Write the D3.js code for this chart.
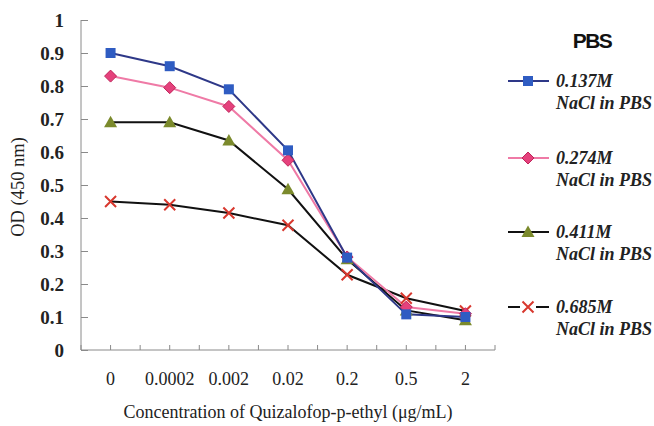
<!DOCTYPE html>
<html>
<head>
<meta charset="utf-8">
<script src="https://cdn.jsdelivr.net/npm/d3@7"></script>
<style>
  body { margin: 0; background: #fff; }
  svg { display: block; }
</style>
</head>
<body>
<div id="chart"></div>
<script>
// Chart data
const concentrations = ["0", "0.0002", "0.002", "0.02", "0.2", "0.5", "2"];
const yTicks = [0, 0.1, 0.2, 0.3, 0.4, 0.5, 0.6, 0.7, 0.8, 0.9, 1];
const seriesNames = ["0.137M", "0.274M", "0.411M", "0.685M"];
const nacl137 = [0.90, 0.86, 0.79, 0.605, 0.28, 0.108, 0.10];
const nacl274 = [0.83, 0.795, 0.738, 0.575, 0.282, 0.13, 0.11];
const nacl411 = [0.69, 0.69, 0.635, 0.487, 0.275, 0.12, 0.09];
const nacl685 = [0.45, 0.44, 0.415, 0.378, 0.228, 0.157, 0.118];

const width = 654, height = 426;
const plot = { left: 81, right: 495, top: 20, bottom: 350 };

const svg = d3.select("#chart").append("svg")
    .attr("width", width)
    .attr("height", height);

const x = d3.scaleBand()
    .domain(concentrations)
    .range([plot.left, plot.right]);

const y = d3.scaleLinear()
    .domain([0, 1])
    .range([plot.bottom, plot.top]);

const axisColor = "#8a8a8a";
const serif = "'Liberation Serif', 'Times New Roman', serif";

// Y axis
const yAxis = svg.append("g")
    .attr("transform", `translate(${plot.left},0)`)
    .call(d3.axisRight(y).tickValues(yTicks).tickSize(7).tickFormat(d3.format("~g")));
yAxis.select(".domain").attr("stroke", axisColor).attr("d", `M0,${plot.bottom}V${plot.top}`);
yAxis.selectAll(".tick line").attr("stroke", axisColor);
yAxis.selectAll(".tick text")
    .attr("x", -17)
    .attr("text-anchor", "end")
    .attr("dy", "0.35em")
    .style("font-family", serif)
    .style("font-size", "19px")
    .style("font-weight", "bold")
    .attr("fill", "#222");

// X axis: ticks at band edges and centres, pointing up
const xAxis = svg.append("g")
    .attr("transform", `translate(0,${plot.bottom})`);
xAxis.append("line")
    .attr("x1", plot.left).attr("x2", plot.right)
    .attr("stroke", axisColor);
const edgeTicks = concentrations.map(c => x(c)).concat([plot.right]);
const centreTicks = concentrations.map(c => x(c) + x.bandwidth() / 2);
xAxis.selectAll(".xt")
    .data(edgeTicks.concat(centreTicks))
    .join("line")
    .attr("x1", d => d).attr("x2", d => d)
    .attr("y1", 0).attr("y2", -5)
    .attr("stroke", axisColor);
xAxis.selectAll(".xl")
    .data(concentrations)
    .join("text")
    .attr("x", d => x(d) + x.bandwidth() / 2)
    .attr("y", 35)
    .attr("text-anchor", "middle")
    .style("font-family", serif)
    .style("font-size", "18px")
    .attr("fill", "#222")
    .text(d => d);

// Axis titles
svg.append("text")
    .attr("x", 288)
    .attr("y", 418)
    .attr("text-anchor", "middle")
    .style("font-family", serif)
    .style("font-size", "18px")
    .attr("fill", "#222")
    .text("Concentration of Quizalofop-p-ethyl (μg/mL)");

svg.append("text")
    .attr("transform", "translate(24,187) rotate(-90)")
    .attr("text-anchor", "middle")
    .style("font-family", serif)
    .style("font-size", "18.5px")
    .attr("fill", "#222")
    .text("OD (450 nm)");

// Series
const series = [
    { name: seriesNames[0], values: nacl137, line: "#2e3888", marker: "square", fill: "#2f5cc2" },
    { name: seriesNames[1], values: nacl274, line: "#ef7aa6", marker: "diamond", fill: "#e5417c" },
    { name: seriesNames[2], values: nacl411, line: "#111", marker: "triangle", fill: "#7b8a2c" },
    { name: seriesNames[3], values: nacl685, line: "#111", marker: "cross", fill: "#d8382e" }
];

const line = d3.line()
    .x((d, i) => x(concentrations[i]) + x.bandwidth() / 2)
    .y(d => y(d));

function drawMarker(g, type, fill) {
    if (type === "square") {
        g.append("rect").attr("x", -5).attr("y", -5).attr("width", 10).attr("height", 10)
            .attr("fill", fill);
    } else if (type === "diamond") {
        g.append("path").attr("d", "M0,-6L6,0L0,6L-6,0Z")
            .attr("fill", fill).attr("stroke", "#c0245a").attr("stroke-width", 1);
    } else if (type === "triangle") {
        g.append("path").attr("d", "M0,-6.5L6.5,5L-6.5,5Z").attr("fill", fill);
    } else {
        g.append("path").attr("d", "M-5.5,-5.5L5.5,5.5M-5.5,5.5L5.5,-5.5")
            .attr("stroke", fill).attr("stroke-width", 2).attr("fill", "none");
    }
}

// draw in reverse so blue sits on top
series.slice().reverse().forEach(s => {
    svg.append("path")
        .datum(s.values)
        .attr("d", line)
        .attr("fill", "none")
        .attr("stroke", s.line)
        .attr("stroke-width", 2);
});
series.slice().reverse().forEach(s => {
    s.values.forEach((v, i) => {
        const g = svg.append("g")
            .attr("transform", `translate(${x(concentrations[i]) + x.bandwidth() / 2},${y(v)})`);
        drawMarker(g, s.marker, s.fill);
    });
});

// Legend
svg.append("text")
    .attr("x", 592)
    .attr("y", 48)
    .attr("text-anchor", "middle")
    .style("font-family", "'Liberation Sans', Arial, sans-serif")
    .style("font-size", "21px")
    .style("font-weight", "bold")
    .style("letter-spacing", "-1.5px")
    .attr("fill", "#111")
    .text("PBS");

const legendY = [81, 158, 232, 307];
series.forEach((s, i) => {
    const g = svg.append("g").attr("transform", `translate(0,${legendY[i]})`);
    if (s.marker === "cross") {
        g.append("line").attr("x1", 508).attr("x2", 520).attr("stroke", s.line).attr("stroke-width", 2);
        g.append("line").attr("x1", 536).attr("x2", 549).attr("stroke", s.line).attr("stroke-width", 2);
    } else {
        g.append("line").attr("x1", 508).attr("x2", 549).attr("stroke", s.line).attr("stroke-width", 2);
    }
    drawMarker(g.append("g").attr("transform", "translate(528,0)"), s.marker, s.fill);
    const t = g.append("text")
        .attr("x", 556)
        .style("font-family", serif)
        .style("font-size", "18px")
        .style("font-weight", "bold")
        .style("font-style", "italic")
        .attr("fill", "#222");
    t.append("tspan").attr("x", 556).attr("y", 6).text(s.name);
    t.append("tspan").attr("x", 556).attr("y", 28).text("NaCl in PBS");
});
</script>
</body>
</html>
